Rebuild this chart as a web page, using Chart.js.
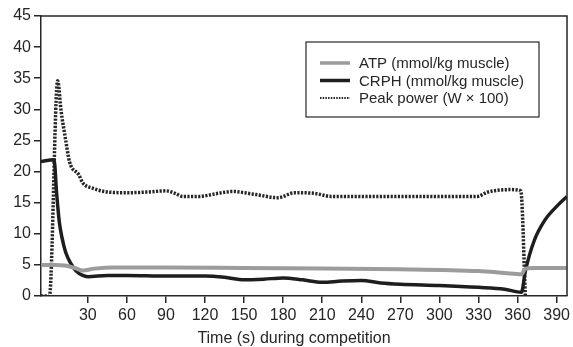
<!DOCTYPE html>
<html>
<head>
<meta charset="utf-8">
<script src="https://cdn.jsdelivr.net/npm/chart.js@4/dist/chart.umd.min.js"></script>
<style>
  html, body { margin: 0; padding: 0; background: #fff; }
  #wrap { width: 573px; height: 347px; position: relative; }
</style>
</head>
<body>
<div id="wrap"><canvas id="chart"></canvas></div>
<script>
// time (s) and values
const xTicks = [30, 60, 90, 120, 150, 180, 210, 240, 270, 300, 330, 360, 390];

const atpTimes = [-6, 5, 12, 20, 26, 35, 50, 90, 150, 210, 270, 330, 350, 363, 366, 372, 398];
const atpValues = [5.0, 5.0, 4.9, 4.5, 4.1, 4.4, 4.6, 4.6, 4.5, 4.4, 4.3, 4.0, 3.7, 3.5, 4.4, 4.5, 4.5];

const crphTimes = [-6, 4, 6, 8, 10, 13, 17, 21, 26, 30, 45, 60, 90, 120, 135, 150, 165, 180, 195, 210, 225, 240, 255, 270, 300, 330, 350, 363, 366, 373, 381, 391, 398];
const crphValues = [21.6, 21.9, 16.5, 12, 9.5, 7, 5.2, 4, 3.3, 3.1, 3.3, 3.3, 3.2, 3.2, 3.0, 2.6, 2.7, 2.9, 2.6, 2.2, 2.4, 2.5, 2.1, 1.9, 1.7, 1.4, 1.1, 0.6, 4, 9, 12.2, 14.6, 16];

const powerTimes = [-6, 0.5, 6.8, 9.4, 13, 16, 23, 26, 34, 46, 60, 75, 90, 97, 103, 115, 130, 141, 159, 176, 189, 204, 217, 329, 337, 355, 362.5, 366];
const powerValues = [0, 0, 34.6, 29.8, 25, 21.5, 19.5, 18.2, 17.3, 16.7, 16.6, 16.7, 16.9, 16.5, 16.0, 16.0, 16.5, 16.8, 16.3, 15.8, 16.6, 16.5, 16.0, 16.0, 16.7, 17.1, 16.9, 0];

const labels = ["ATP (mmol/kg muscle)", "CRPH (mmol/kg muscle)", "Peak power (W \u00d7 100)"];
const xTitle = "Time (s) during competition";

const pts = (xs, ys) => xs.map((x, i) => ({ x: x, y: ys[i] }));
const FONT = "'Liberation Sans', Arial, Helvetica, sans-serif";
const INK = "#262626";

// frame on top/right, x title (off-centre like the original), legend box inside the plot
const framePlugin = {
  id: "frame",
  afterDraw(chart) {
    const { ctx, chartArea: a } = chart;
    ctx.save();
    ctx.strokeStyle = INK;
    ctx.lineWidth = 1.5;
    ctx.beginPath();
    ctx.moveTo(a.left, a.top);
    ctx.lineTo(a.right, a.top);
    ctx.lineTo(a.right, a.bottom);
    ctx.stroke();

    ctx.fillStyle = INK;
    ctx.font = "16px " + FONT;
    ctx.textAlign = "center";
    ctx.textBaseline = "middle";
    ctx.fillText(xTitle, a.left + 253, a.bottom + 43);

    const bx = a.right - 261, by = a.top + 26, bw = 233, bh = 75;
    ctx.fillStyle = "#fff";
    ctx.fillRect(bx, by, bw, bh);
    ctx.lineWidth = 1.2;
    ctx.strokeRect(bx, by, bw, bh);

    ctx.font = "15px " + FONT;
    ctx.textAlign = "left";
    chart.data.datasets.forEach((ds, i) => {
      const y = by + 21 + i * 17.5;
      const dotted = ds.borderDash && ds.borderDash.length;
      ctx.beginPath();
      ctx.strokeStyle = ds.borderColor;
      ctx.lineWidth = dotted ? 2 : 3.5;
      ctx.setLineDash(dotted ? [1.5, 1.2] : []);
      ctx.moveTo(bx + 14, y);
      ctx.lineTo(bx + 44, y);
      ctx.stroke();
      ctx.setLineDash([]);
      ctx.fillStyle = INK;
      ctx.fillText(ds.label, bx + 53, y + 1);
    });
    ctx.restore();
  },
};

new Chart(document.getElementById("chart"), {
  type: "line",
  data: {
    datasets: [
      {
        label: labels[0],
        data: pts(atpTimes, atpValues),
        borderColor: "#9c9c9c",
        borderWidth: 4,
        cubicInterpolationMode: "monotone",
        pointRadius: 0,
      },
      {
        label: labels[1],
        data: pts(crphTimes, crphValues),
        borderColor: "#1e1e1e",
        borderWidth: 3.5,
        cubicInterpolationMode: "monotone",
        pointRadius: 0,
      },
      {
        label: labels[2],
        data: pts(powerTimes, powerValues),
        borderColor: "#262626",
        borderWidth: 3.5,
        borderDash: [2.2, 1.4],
        cubicInterpolationMode: "monotone",
        pointRadius: 0,
      },
    ],
  },
  options: {
    responsive: true,
    maintainAspectRatio: false,
    animation: false,
    layout: { padding: { top: 16, right: 3, left: 0, bottom: 0 } },
    plugins: { legend: { display: false }, tooltip: { enabled: false } },
    scales: {
      x: {
        type: "linear",
        min: -6,
        max: 398,
        afterBuildTicks: (s) => { s.ticks = xTicks.map((v) => ({ value: v })); },
        afterFit: (s) => { s.height = 51; },
        ticks: { autoSkip: false, maxRotation: 0, color: INK, padding: 3, font: { family: FONT, size: 16 } },
        grid: { drawOnChartArea: false, tickLength: 7, color: INK, lineWidth: 1.5 },
        border: { color: INK, width: 1.5 },
      },
      y: {
        min: 0,
        max: 45,
        afterFit: (s) => { s.width = 41; },
        ticks: { stepSize: 5, color: INK, padding: 3, font: { family: FONT, size: 16 } },
        grid: { drawOnChartArea: false, tickLength: 7, color: INK, lineWidth: 1.5 },
        border: { color: INK, width: 1.5 },
      },
    },
  },
  plugins: [framePlugin],
});
</script>
</body>
</html>
